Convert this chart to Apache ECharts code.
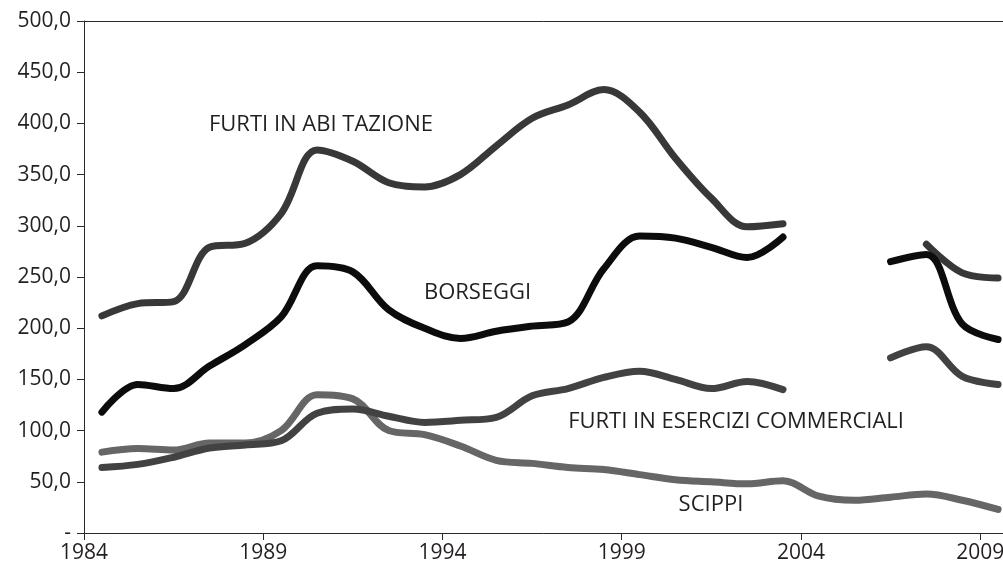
<!DOCTYPE html>
<html>
<head>
<meta charset="utf-8">
<script src="https://cdn.jsdelivr.net/npm/echarts@6/dist/echarts.min.js"></script>
<style>
html,body{margin:0;padding:0;background:#fff;}
#c{width:1003px;height:568px;}
</style>
</head>
<body>
<div id="c"></div>
<script>
const years = [1984,1985,1986,1987,1988,1989,1990,1991,1992,1993,1994,1995,1996,1997,1998,1999,2000,2001,2002,2003,2004,2005,2006,2007,2008,2009];
const furtiAbitazione = [212,224,226,279,283,312,374,363,342,338,350,378,405,418,433,411,366,327,299,302,null,null,null,282,254,249];
const borseggi = [118,145,141,163,184,211,261,255,218,200,190,197,202,206,258,290,288,279,269,289,null,null,265,272,204,189];
const furtiEsercizi = [64,67,74,83,86,90,117,121,114,108,110,113,134,141,152,158,150,141,148,140,null,null,171,182,153,145];
const scippi = [79,82.5,81,88,88,100,135,131,100,96,85,71,68,64,62,57,52,50,48,51,36,32,35,38,32,23];
const xTickYears = [1984,1989,1994,1999,2004,2009];
const annotations = [
  {text:'FURTI IN ABI TAZIONE', x:6.61, y:398.7},
  {text:'BORSEGGI', x:10.98, y:234.2},
  {text:'FURTI IN ESERCIZI COMMERCIALI', x:18.19, y:108.6},
  {text:'SCIPPI', x:17.49, y:27.3}
];

function toPairs(arr){ return arr.map((v,i)=>[i+0.5, v]); }

const FONT = '"Open Sans", "Noto Sans", sans-serif';
const TXT = '#231f20';
const AX = '#2a2a2a';

const chart = echarts.init(document.getElementById('c'), null, {renderer:'canvas'});
const lineSeries = (name, data, color, z) => ({
  name, type:'line', data: toPairs(data), smooth:0.35, showSymbol:false, symbol:'none',
  connectNulls:false, z,
  lineStyle:{color, width:7, cap:'round', join:'round'},
  emphasis:{disabled:true}, animation:false
});
chart.setOption({
  animation:false,
  grid:{left:84, right:-13, top:21, bottom:35, containLabel:false, outerBoundsMode:'none'},
  xAxis:[{
    type:'value', min:0, max:26, interval:5,
    axisLine:{show:true, onZero:false, lineStyle:{color:AX, width:1}},
    axisTick:{show:true, length:7, inside:false, lineStyle:{color:AX}},
    splitLine:{show:false},
    axisLabel:{
      fontFamily:FONT, fontSize:21, color:TXT, margin:10,
      formatter:(v)=>{ const y = years[0]+v; return xTickYears.indexOf(y)>=0 ? String(y) : ''; }
    }
  },{
    type:'value', position:'top', min:0, max:26,
    axisLine:{show:true, onZero:false, lineStyle:{color:AX, width:1}},
    axisTick:{show:false}, axisLabel:{show:false}, splitLine:{show:false}
  }],
  yAxis:{
    type:'value', min:0, max:500, interval:50,
    axisLine:{show:true, onZero:false, lineStyle:{color:AX, width:1}},
    axisTick:{show:true, length:7, lineStyle:{color:AX}},
    splitLine:{show:false},
    axisLabel:{
      fontFamily:FONT, fontSize:21, color:TXT, margin:13,
      formatter:(v)=> v===0 ? '-' : v.toFixed(1).replace('.',',')
    }
  },
  series:[
    lineSeries('SCIPPI', scippi, '#666666', 2),
    lineSeries('FURTI IN ESERCIZI COMMERCIALI', furtiEsercizi, '#424242', 3),
    lineSeries('FURTI IN ABITAZIONE', furtiAbitazione, '#383838', 4),
    lineSeries('BORSEGGI', borseggi, '#0c0c0c', 5)
  ]
});

const g = annotations.map(a=>{
  const p = chart.convertToPixel({xAxisIndex:0, yAxisIndex:0}, [a.x, a.y]);
  return {type:'text', x:p[0], y:p[1], z:10,
    style:{text:a.text, fill:TXT, font:'22px ' + FONT, textAlign:'center', textVerticalAlign:'middle'}};
});
chart.setOption({graphic:g});
</script>
</body>
</html>
